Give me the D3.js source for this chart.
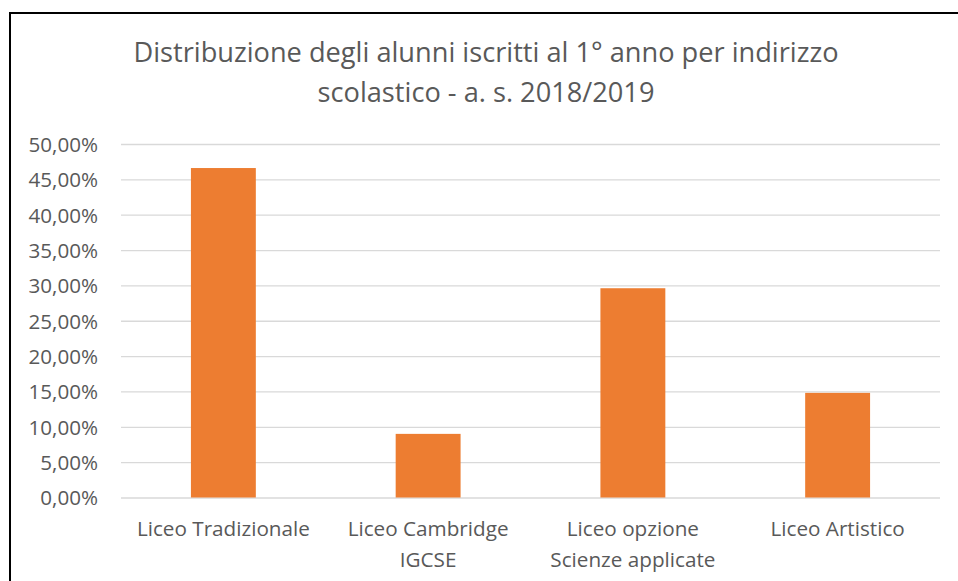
<!DOCTYPE html>
<html>
<head>
<meta charset="utf-8">
<script src="https://cdn.jsdelivr.net/npm/d3@7"></script>
<style>
  body { margin: 0; background: #fff; }
  text { font-family: "Open Sans", "Noto Sans", sans-serif; fill: #595959; }
</style>
</head>
<body>
<script>
// data
const categories = ["Liceo Tradizionale", "Liceo Cambridge IGCSE", "Liceo opzione Scienze applicate", "Liceo Artistico"];
const labelLines = [["Liceo Tradizionale"], ["Liceo Cambridge", "IGCSE"], ["Liceo opzione", "Scienze applicate"], ["Liceo Artistico"]];
const values = [0.466, 0.090, 0.296, 0.148];
const yTicks = [0, 0.05, 0.10, 0.15, 0.20, 0.25, 0.30, 0.35, 0.40, 0.45, 0.50];
const titleLines = ["Distribuzione degli alunni iscritti al 1° anno per indirizzo", "scolastico - a. s. 2018/2019"];

const width = 958, height = 581;
const plotL = 121, plotR = 940, plotT = 144, plotB = 497.5;

const svg = d3.select("body").append("svg").attr("width", width).attr("height", height);

// outer frame (cut off at right and bottom)
svg.append("rect").attr("x", 10).attr("y", 13).attr("width", 980).attr("height", 600)
    .attr("fill", "none").attr("stroke", "#000").attr("stroke-width", 2);

const it = d3.formatLocale({decimal: ",", thousands: ".", grouping: [3], currency: ["€", ""]});
const pct = it.format(".2%");

const x = d3.scaleBand().domain(categories).range([plotL, plotR]).paddingInner(0.683).paddingOuter(0.683 / 2);
const y = d3.scaleLinear().domain([0, 0.5]).range([plotB, plotT]);

// gridlines + y labels
const yAxis = svg.append("g").attr("transform", `translate(${plotL},0)`)
    .call(d3.axisLeft(y).tickValues(yTicks).tickFormat(pct).tickSize(-(plotR - plotL)).tickPadding(23));
yAxis.select(".domain").remove();
yAxis.selectAll("line").attr("stroke", "#d9d9d9").attr("stroke-width", 1.3);
yAxis.selectAll("text").attr("font-size", 20.6).attr("fill", "#595959").attr("dy", "0.36em");

// bars
svg.selectAll(".bar").data(values).enter().append("rect")
    .attr("class", "bar")
    .attr("x", (d, i) => x(categories[i]))
    .attr("y", d => y(d))
    .attr("width", x.bandwidth())
    .attr("height", d => y(0) - y(d))
    .attr("fill", "#ED7D31");

// category labels
const xl = svg.append("g").selectAll("text").data(labelLines).enter().append("text")
    .attr("text-anchor", "middle")
    .attr("font-size", 20.7)
    .attr("x", (d, i) => x(categories[i]) + x.bandwidth() / 2)
    .attr("y", 536);
xl.selectAll("tspan").data(d => d).enter().append("tspan")
    .attr("x", function () { return d3.select(this.parentNode).attr("x"); })
    .attr("dy", (d, i) => i === 0 ? 0 : 31)
    .text(d => d);

// title
svg.append("g").selectAll("text").data(titleLines).enter().append("text")
    .attr("text-anchor", "middle")
    .attr("x", 486)
    .attr("y", (d, i) => 62 + i * 40)
    .attr("font-size", 27.2)
    .text(d => d);
</script>
</body>
</html>
